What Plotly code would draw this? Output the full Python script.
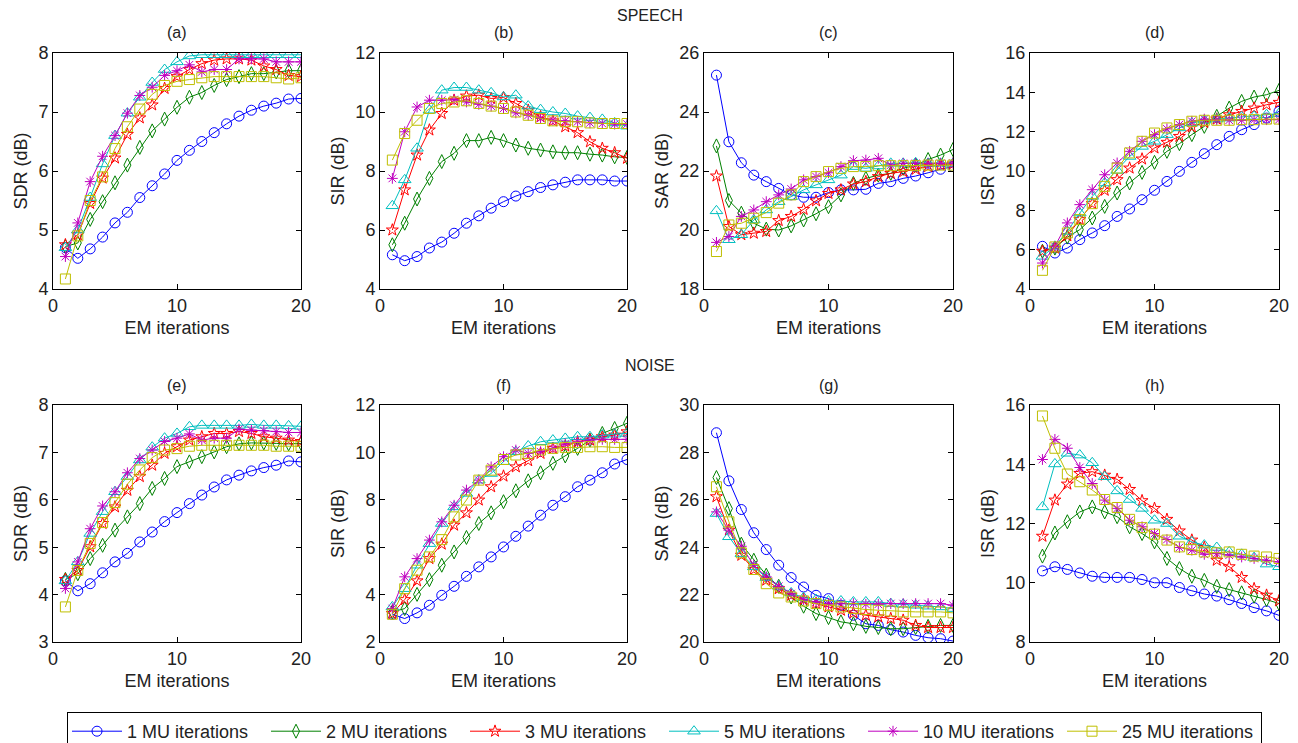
import plotly.graph_objects as go

# ---------------- data ----------------
em_iter = list(range(1, 21))
series_names = ["1 MU iterations", "2 MU iterations", "3 MU iterations",
                "5 MU iterations", "10 MU iterations", "25 MU iterations"]
panel_titles = ["(a)", "(b)", "(c)", "(d)", "(e)", "(f)", "(g)", "(h)"]
metric_labels = ["SDR (dB)", "SIR (dB)", "SAR (dB)", "ISR (dB)"]
row_labels = ["SPEECH", "NOISE"]

speech_sdr = [
    [4.70, 4.52, 4.68, 4.88, 5.12, 5.30, 5.55, 5.75, 5.95, 6.18, 6.35, 6.50, 6.65, 6.80, 6.93, 7.03, 7.10, 7.15, 7.22, 7.23],
    [4.72, 4.78, 5.18, 5.48, 5.80, 6.10, 6.40, 6.68, 6.88, 7.08, 7.25, 7.33, 7.45, 7.55, 7.60, 7.65, 7.65, 7.68, 7.70, 7.70],
    [4.75, 4.92, 5.45, 5.88, 6.22, 6.62, 6.90, 7.12, 7.40, 7.60, 7.72, 7.82, 7.88, 7.90, 7.90, 7.88, 7.78, 7.72, 7.62, 7.60],
    [4.70, 5.00, 5.55, 6.12, 6.60, 6.98, 7.25, 7.50, 7.72, 7.85, 7.95, 7.97, 7.97, 7.97, 7.97, 7.97, 7.97, 7.97, 7.97, 7.97],
    [4.55, 5.12, 5.82, 6.25, 6.60, 6.98, 7.28, 7.42, 7.62, 7.70, 7.80, 7.68, 7.72, 7.72, 7.90, 7.90, 7.90, 7.85, 7.85, 7.85],
    [4.17, 4.90, 5.50, 5.90, 6.38, 6.75, 7.05, 7.30, 7.45, 7.52, 7.55, 7.58, 7.60, 7.60, 7.60, 7.60, 7.60, 7.58, 7.56, 7.58],
]
speech_sir = [
    [5.16, 4.96, 5.10, 5.39, 5.59, 5.89, 6.23, 6.48, 6.74, 6.96, 7.15, 7.30, 7.44, 7.53, 7.62, 7.70, 7.70, 7.70, 7.66, 7.66],
    [5.50, 6.23, 7.05, 7.75, 8.32, 8.60, 9.03, 9.03, 9.14, 9.03, 8.88, 8.77, 8.71, 8.65, 8.62, 8.62, 8.57, 8.54, 8.48, 8.46],
    [6.00, 7.36, 8.54, 9.39, 9.95, 10.40, 10.54, 10.57, 10.46, 10.49, 10.29, 10.06, 9.84, 9.70, 9.50, 9.30, 8.99, 8.77, 8.62, 8.43],
    [6.82, 7.70, 8.77, 10.06, 10.74, 10.83, 10.83, 10.74, 10.65, 10.51, 10.57, 10.20, 10.08, 10.00, 9.95, 9.86, 9.81, 9.75, 9.63, 9.52],
    [7.75, 9.33, 10.17, 10.40, 10.40, 10.42, 10.34, 10.26, 10.20, 10.12, 9.97, 9.89, 9.78, 9.72, 9.70, 9.67, 9.63, 9.61, 9.59, 9.59],
    [8.37, 9.27, 9.72, 10.12, 10.29, 10.34, 10.38, 10.29, 10.20, 10.12, 10.00, 9.89, 9.78, 9.70, 9.67, 9.67, 9.63, 9.61, 9.61, 9.61],
]
speech_sar = [
    [25.25, 22.99, 22.28, 21.86, 21.64, 21.41, 21.19, 21.11, 21.11, 21.27, 21.36, 21.36, 21.38, 21.58, 21.64, 21.75, 21.83, 21.94, 22.06, 22.15],
    [22.85, 21.00, 20.57, 20.23, 20.03, 20.00, 20.14, 20.34, 20.55, 20.79, 21.19, 21.58, 21.75, 21.86, 21.92, 22.09, 22.20, 22.39, 22.54, 22.73],
    [21.83, 20.12, 19.84, 19.89, 19.95, 20.32, 20.46, 20.70, 20.99, 21.24, 21.36, 21.56, 21.64, 21.81, 21.92, 21.98, 22.06, 22.15, 22.20, 22.24],
    [20.65, 19.67, 19.84, 20.34, 20.68, 20.96, 21.13, 21.36, 21.53, 21.70, 21.86, 22.15, 22.09, 22.17, 22.26, 22.26, 22.28, 22.26, 22.26, 22.26],
    [19.58, 19.78, 20.46, 20.68, 20.96, 21.19, 21.39, 21.70, 21.81, 21.94, 22.15, 22.35, 22.37, 22.43, 22.20, 22.26, 22.26, 22.26, 22.26, 22.26],
    [19.27, 20.17, 20.23, 20.40, 20.59, 20.91, 21.19, 21.64, 21.81, 21.98, 22.09, 22.15, 22.15, 22.18, 22.18, 22.18, 22.18, 22.20, 22.20, 22.20],
]
speech_isr = [
    [6.17, 5.83, 6.08, 6.51, 6.85, 7.22, 7.69, 8.07, 8.54, 9.02, 9.47, 9.98, 10.44, 10.88, 11.34, 11.76, 12.10, 12.36, 12.69, 13.03],
    [5.92, 6.08, 6.64, 7.02, 7.61, 8.20, 8.88, 9.39, 9.93, 10.44, 11.00, 11.39, 11.85, 12.27, 12.78, 13.20, 13.54, 13.76, 13.88, 14.10],
    [5.92, 6.08, 6.71, 7.53, 8.34, 9.02, 9.56, 10.15, 10.61, 11.17, 11.46, 11.76, 12.24, 12.47, 12.64, 12.86, 13.03, 13.20, 13.37, 13.49],
    [5.66, 6.17, 6.93, 7.86, 8.71, 9.39, 10.03, 10.74, 11.25, 11.51, 11.85, 12.19, 12.44, 12.58, 12.64, 12.69, 12.75, 12.78, 12.86, 12.92],
    [5.32, 6.17, 7.36, 8.29, 9.05, 9.81, 10.41, 11.00, 11.51, 11.85, 12.14, 12.36, 12.53, 12.64, 12.61, 12.58, 12.58, 12.61, 12.61, 12.61],
    [4.95, 6.14, 6.85, 7.53, 8.34, 9.22, 10.15, 10.92, 11.51, 11.93, 12.19, 12.36, 12.53, 12.58, 12.58, 12.58, 12.61, 12.61, 12.64, 12.64],
]
noise_sdr = [
    [4.29, 4.08, 4.23, 4.46, 4.69, 4.87, 5.11, 5.32, 5.54, 5.73, 5.92, 6.10, 6.27, 6.42, 6.52, 6.61, 6.68, 6.73, 6.82, 6.80],
    [4.32, 4.44, 4.76, 5.04, 5.36, 5.64, 5.92, 6.24, 6.45, 6.70, 6.80, 6.91, 7.01, 7.12, 7.18, 7.20, 7.20, 7.19, 7.18, 7.19],
    [4.32, 4.51, 5.01, 5.50, 5.85, 6.20, 6.49, 6.73, 6.98, 7.12, 7.26, 7.33, 7.40, 7.40, 7.44, 7.40, 7.33, 7.30, 7.26, 7.23],
    [4.29, 4.69, 5.29, 5.75, 6.17, 6.49, 6.84, 7.11, 7.30, 7.40, 7.54, 7.57, 7.57, 7.57, 7.57, 7.59, 7.57, 7.57, 7.56, 7.55],
    [4.13, 4.69, 5.39, 5.87, 6.17, 6.57, 6.87, 7.05, 7.23, 7.30, 7.39, 7.26, 7.30, 7.30, 7.49, 7.47, 7.46, 7.44, 7.42, 7.42],
    [3.74, 4.51, 5.08, 5.52, 5.94, 6.33, 6.63, 6.89, 7.05, 7.08, 7.13, 7.15, 7.15, 7.15, 7.15, 7.15, 7.15, 7.13, 7.13, 7.13],
]
noise_sir = [
    [3.17, 2.99, 3.23, 3.55, 3.97, 4.35, 4.77, 5.17, 5.59, 6.01, 6.46, 6.89, 7.35, 7.77, 8.13, 8.55, 8.83, 9.14, 9.51, 9.70],
    [3.27, 3.41, 4.01, 4.63, 5.24, 5.80, 6.41, 7.00, 7.45, 7.92, 8.38, 8.80, 9.14, 9.54, 9.85, 10.17, 10.52, 10.80, 11.01, 11.23],
    [3.20, 3.79, 4.58, 5.52, 6.13, 6.93, 7.45, 7.99, 8.55, 9.00, 9.39, 9.65, 9.96, 10.17, 10.27, 10.45, 10.52, 10.66, 10.73, 10.87],
    [3.48, 4.25, 5.24, 6.15, 7.00, 7.70, 8.27, 8.83, 9.11, 9.61, 10.03, 10.27, 10.45, 10.52, 10.59, 10.66, 10.66, 10.73, 10.77, 10.80],
    [3.41, 4.75, 5.52, 6.30, 7.07, 7.77, 8.41, 8.83, 9.39, 9.82, 10.10, 9.96, 10.03, 10.17, 10.35, 10.45, 10.52, 10.55, 10.55, 10.55],
    [3.17, 4.25, 5.03, 5.59, 6.32, 7.28, 7.99, 8.83, 9.25, 9.70, 9.89, 9.96, 10.10, 10.17, 10.21, 10.21, 10.24, 10.24, 10.21, 10.21],
]
noise_sar = [
    [28.83, 26.80, 25.59, 24.61, 23.90, 23.24, 22.72, 22.32, 21.97, 21.83, 21.55, 21.13, 20.77, 20.70, 20.52, 20.42, 20.28, 20.18, 20.14, 20.04],
    [26.94, 25.63, 24.13, 23.45, 22.82, 22.35, 21.90, 21.51, 21.20, 21.03, 20.85, 20.77, 20.66, 20.61, 20.56, 20.56, 20.61, 20.66, 20.70, 20.70],
    [26.13, 24.72, 23.66, 23.06, 22.61, 22.25, 21.97, 21.79, 21.62, 21.48, 21.34, 21.23, 21.13, 21.06, 20.99, 20.92, 20.70, 20.61, 20.61, 20.61],
    [25.42, 24.44, 23.73, 23.17, 22.72, 22.35, 22.07, 21.87, 21.79, 21.73, 21.73, 21.69, 21.69, 21.69, 21.62, 21.59, 21.55, 21.51, 21.48, 21.41],
    [25.49, 24.72, 24.04, 23.24, 22.75, 22.35, 22.04, 21.79, 21.69, 21.62, 21.62, 21.62, 21.59, 21.59, 21.62, 21.62, 21.62, 21.62, 21.62, 21.55],
    [26.55, 25.07, 23.76, 23.06, 22.46, 22.07, 21.90, 21.73, 21.62, 21.55, 21.48, 21.41, 21.37, 21.34, 21.31, 21.27, 21.27, 21.27, 21.27, 21.23],
]
noise_isr = [
    [10.40, 10.54, 10.45, 10.33, 10.22, 10.18, 10.18, 10.18, 10.11, 10.00, 10.00, 9.84, 9.73, 9.62, 9.55, 9.43, 9.30, 9.16, 9.05, 8.90],
    [10.90, 11.68, 12.06, 12.39, 12.56, 12.39, 12.23, 11.89, 11.66, 11.38, 10.82, 10.48, 10.22, 10.08, 9.88, 9.77, 9.66, 9.55, 9.43, 9.30],
    [11.57, 12.79, 13.33, 13.69, 13.75, 13.63, 13.49, 13.15, 12.77, 12.51, 12.14, 11.75, 11.44, 11.19, 10.76, 10.54, 10.18, 9.80, 9.58, 9.39],
    [12.56, 14.01, 14.37, 14.31, 14.05, 13.58, 13.10, 12.81, 12.51, 12.11, 12.00, 11.57, 11.38, 11.27, 11.19, 11.04, 10.96, 10.85, 10.63, 10.54],
    [14.16, 14.84, 14.54, 13.89, 13.35, 12.79, 12.51, 12.11, 11.89, 11.66, 11.46, 11.19, 11.10, 10.96, 10.99, 10.93, 10.87, 10.82, 10.76, 10.70],
    [15.63, 14.54, 13.67, 13.41, 13.13, 12.81, 12.54, 12.14, 11.86, 11.64, 11.44, 11.21, 11.12, 11.04, 11.01, 11.04, 10.96, 10.90, 10.87, 10.82],
]

panel_data = [speech_sdr, speech_sir, speech_sar, speech_isr,
              noise_sdr, noise_sir, noise_sar, noise_isr]
y_ranges = [(4, 8), (4, 12), (18, 26), (4, 16), (3, 8), (2, 12), (20, 30), (8, 16)]
y_dticks = [1, 2, 2, 2, 1, 2, 2, 2]
x_ticks = [0, 10, 20]

# ---------------- styles ----------------
colors = ["#0000FF", "#008000", "#FF0000", "#00BFBF", "#BF00BF", "#BFBF00"]
symbols = ["circle-open", "diamond-tall-open", "star-open",
           "triangle-up-open", "asterisk-open", "square-open"]
msizes = [10, 10, 9, 11, 9, 10]

FONT = "Liberation Sans, Arial, Helvetica, sans-serif"
W, H = 1298, 743
ML, MR, MT, MB = 53, 19, 53, 101
PW, PH = W - ML - MR, H - MT - MB

col_px = [(53, 301), (380, 627), (704, 953), (1030, 1279)]
row_px = [(53, 289), (405, 642)]

def px_x(p):
    return (p - ML) / PW

def px_y(p):
    return (H - MB - p) / PH

fig = go.Figure()
layout = {}
annotations = []

for k in range(8):
    r, c = divmod(k, 4)
    idx = k + 1
    xa = "x" if idx == 1 else f"x{idx}"
    ya = "y" if idx == 1 else f"y{idx}"
    for s in range(6):
        fig.add_trace(go.Scatter(
            x=em_iter, y=panel_data[k][s], xaxis=xa, yaxis=ya,
            mode="lines+markers", name=series_names[s],
            legendgroup=series_names[s], showlegend=(k == 0),
            line=dict(color=colors[s], width=1),
            marker=dict(symbol=symbols[s], size=msizes[s], color=colors[s],
                        line=dict(color=colors[s], width=1)),
        ))
    x0, x1 = col_px[c]
    y0, y1 = row_px[r]
    axis_common = dict(showline=True, linecolor="black", linewidth=1, mirror="ticks",
                       ticks="inside", ticklen=5, tickwidth=1, tickcolor="black",
                       showgrid=False, zeroline=False,
                       tickfont=dict(family=FONT, size=18, color="#222222"))
    layout["xaxis" if idx == 1 else f"xaxis{idx}"] = dict(
        axis_common, domain=[px_x(x0), px_x(x1)], range=[0, 20],
        tickvals=x_ticks, anchor=ya,
        title=dict(text="EM iterations", font=dict(family=FONT, size=18, color="#222222"),
                   standoff=6))
    layout["yaxis" if idx == 1 else f"yaxis{idx}"] = dict(
        axis_common, domain=[px_y(y1), px_y(y0)], range=list(y_ranges[k]),
        dtick=y_dticks[k], tick0=0, anchor=xa,
        title=dict(text=metric_labels[c], font=dict(family=FONT, size=18, color="#222222"),
                   standoff=6))
    annotations.append(dict(text=panel_titles[k], x=px_x((x0 + x1) / 2), y=px_y(y0 - 20),
                            xref="paper", yref="paper", showarrow=False,
                            xanchor="center", yanchor="middle",
                            font=dict(family=FONT, size=16, color="#222222")))

annotations.append(dict(text=row_labels[0], x=px_x(650), y=px_y(15), xref="paper", yref="paper",
                        showarrow=False, xanchor="center", yanchor="middle",
                        font=dict(family=FONT, size=16, color="#222222")))
annotations.append(dict(text=row_labels[1], x=px_x(650), y=px_y(365), xref="paper", yref="paper",
                        showarrow=False, xanchor="center", yanchor="middle",
                        font=dict(family=FONT, size=16, color="#222222")))

fig.update_layout(
    width=W, height=H,
    margin=dict(l=ML, r=MR, t=MT, b=MB, autoexpand=False),
    paper_bgcolor="white", plot_bgcolor="white",
    annotations=annotations,
    showlegend=True,
    legend=dict(orientation="h", x=px_x(67), y=px_y(712), xanchor="left", yanchor="top",
                bordercolor="black", borderwidth=1, bgcolor="white",
                entrywidth=134, entrywidthmode="pixels", itemwidth=50,
                font=dict(family=FONT, size=18, color="#222222"),
                tracegroupgap=0),
    **layout,
)

fig.write_html("out.html", config={"displayModeBar": False},
               post_script="document.body.style.margin='0';document.body.style.overflow='hidden';")
